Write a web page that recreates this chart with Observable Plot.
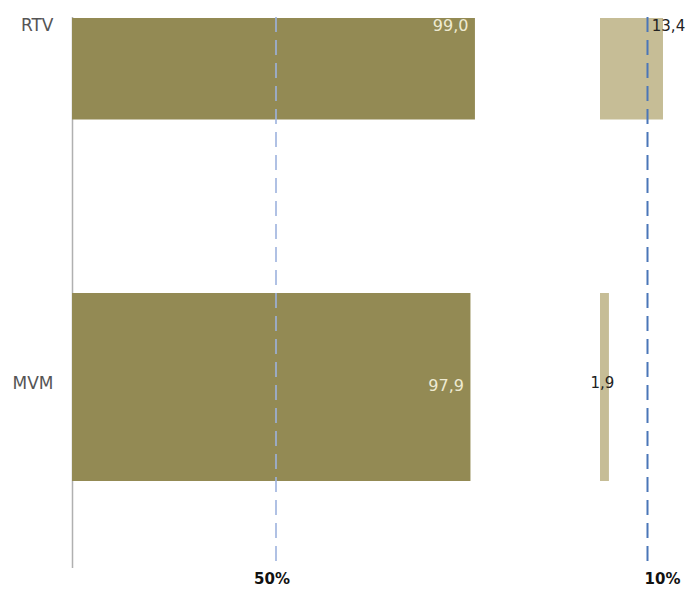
<!DOCTYPE html>
<html>
<head>
<meta charset="utf-8">
<script src="https://cdn.jsdelivr.net/npm/d3@7"></script>
<script src="https://cdn.jsdelivr.net/npm/@observablehq/plot@0.6"></script>
<style>
  html, body { margin: 0; padding: 0; background: #fff; }
  #wrap { position: relative; width: 693px; height: 598px; }
  #wrap svg { position: absolute; top: 0; }
</style>
</head>
<body>
<div id="wrap"></div>
<script>
const categories = ["RTV", "MVM"];
const leftValues = [99.0, 97.9];
const rightValues = [13.4, 1.9];
const leftRef = 50;
const rightRef = 10;
const tickLabels = ["50%", "10%"];

const rows = categories.map((c, i) => ({cat: c, left: leftValues[i], right: rightValues[i]}));
const fmt = v => d3.format(".1f")(v).replace(".", ",");
const font = "DejaVu Sans, sans-serif";
const H = 598, MT = 17, MB = 30;
const yScale = {type: "band", domain: categories, padding: 0, axis: null};
const insets = {RTV: {insetTop: 0, insetBottom: 173.5}, MVM: {insetTop: 0, insetBottom: 87}};
const labelDy = {RTV: -130, MVM: -45};

const left = Plot.plot({
  width: 560, height: H, marginTop: MT, marginBottom: MB, marginLeft: 72, marginRight: 0,
  x: {domain: [0, 100], range: [72, 479], axis: null},
  y: yScale,
  style: {fontFamily: font, background: "transparent"},
  marks: [
    Plot.ruleX([0], {stroke: "#b0b0b0", strokeWidth: 1.5}),
    ...categories.map(c => Plot.barX(rows.filter(d => d.cat === c), {x: "left", y: "cat", fill: "#938a54", ...insets[c]})),
    Plot.ruleX([leftRef], {stroke: "#9db2de", strokeWidth: 1.6, strokeDasharray: "15,8"}),
    ...categories.map(c => Plot.text([c], {y: d => d, frameAnchor: "left", dx: -19, dy: labelDy[c] + (c === "MVM" ? -2 : 0), textAnchor: "end", fill: "#555", fontSize: 17})),
    ...categories.map(c => Plot.text(rows.filter(d => d.cat === c), {x: "left", y: "cat", text: d => fmt(d.left), textAnchor: "end", dx: -7, dy: labelDy[c], fill: "#eeead2", fontSize: 16})),
    Plot.text([leftRef], {x: d => d, text: () => tickLabels[0], frameAnchor: "bottom", dy: 15, dx: -4, fontWeight: "bold", fontSize: 15, fill: "#111"})
  ]
});
left.style.left = "0px";

const rightPlot = Plot.plot({
  width: 133, height: H, marginTop: MT, marginBottom: MB, marginLeft: 40, marginRight: 0,
  x: {domain: [0, 20], range: [40, 134], axis: null},
  y: yScale,
  style: {fontFamily: font, background: "transparent", overflow: "visible"},
  marks: [
    ...categories.map(c => Plot.barX(rows.filter(d => d.cat === c), {x: "right", y: "cat", fill: "#c6bd96", ...insets[c]})),
    Plot.ruleX([rightRef], {stroke: "#4a76b8", strokeWidth: 2, strokeDasharray: "15,8"}),
    Plot.text(rows.filter(d => d.cat === "RTV"), {x: "right", y: "cat", text: d => fmt(d.right), textAnchor: "middle", dx: 5, dy: labelDy.RTV, fill: "#222", fontSize: 15}),
    Plot.text(rows.filter(d => d.cat === "MVM"), {x: "right", y: "cat", text: d => fmt(d.right), textAnchor: "middle", dx: -7, dy: -48, fill: "#222", fontSize: 15}),
    Plot.text([rightRef], {x: d => d, text: () => tickLabels[1], frameAnchor: "bottom", dy: 15, dx: 15, fontWeight: "bold", fontSize: 15, fill: "#111"})
  ]
});
rightPlot.style.left = "560px";

document.getElementById("wrap").append(left, rightPlot);
</script>
</body>
</html>
